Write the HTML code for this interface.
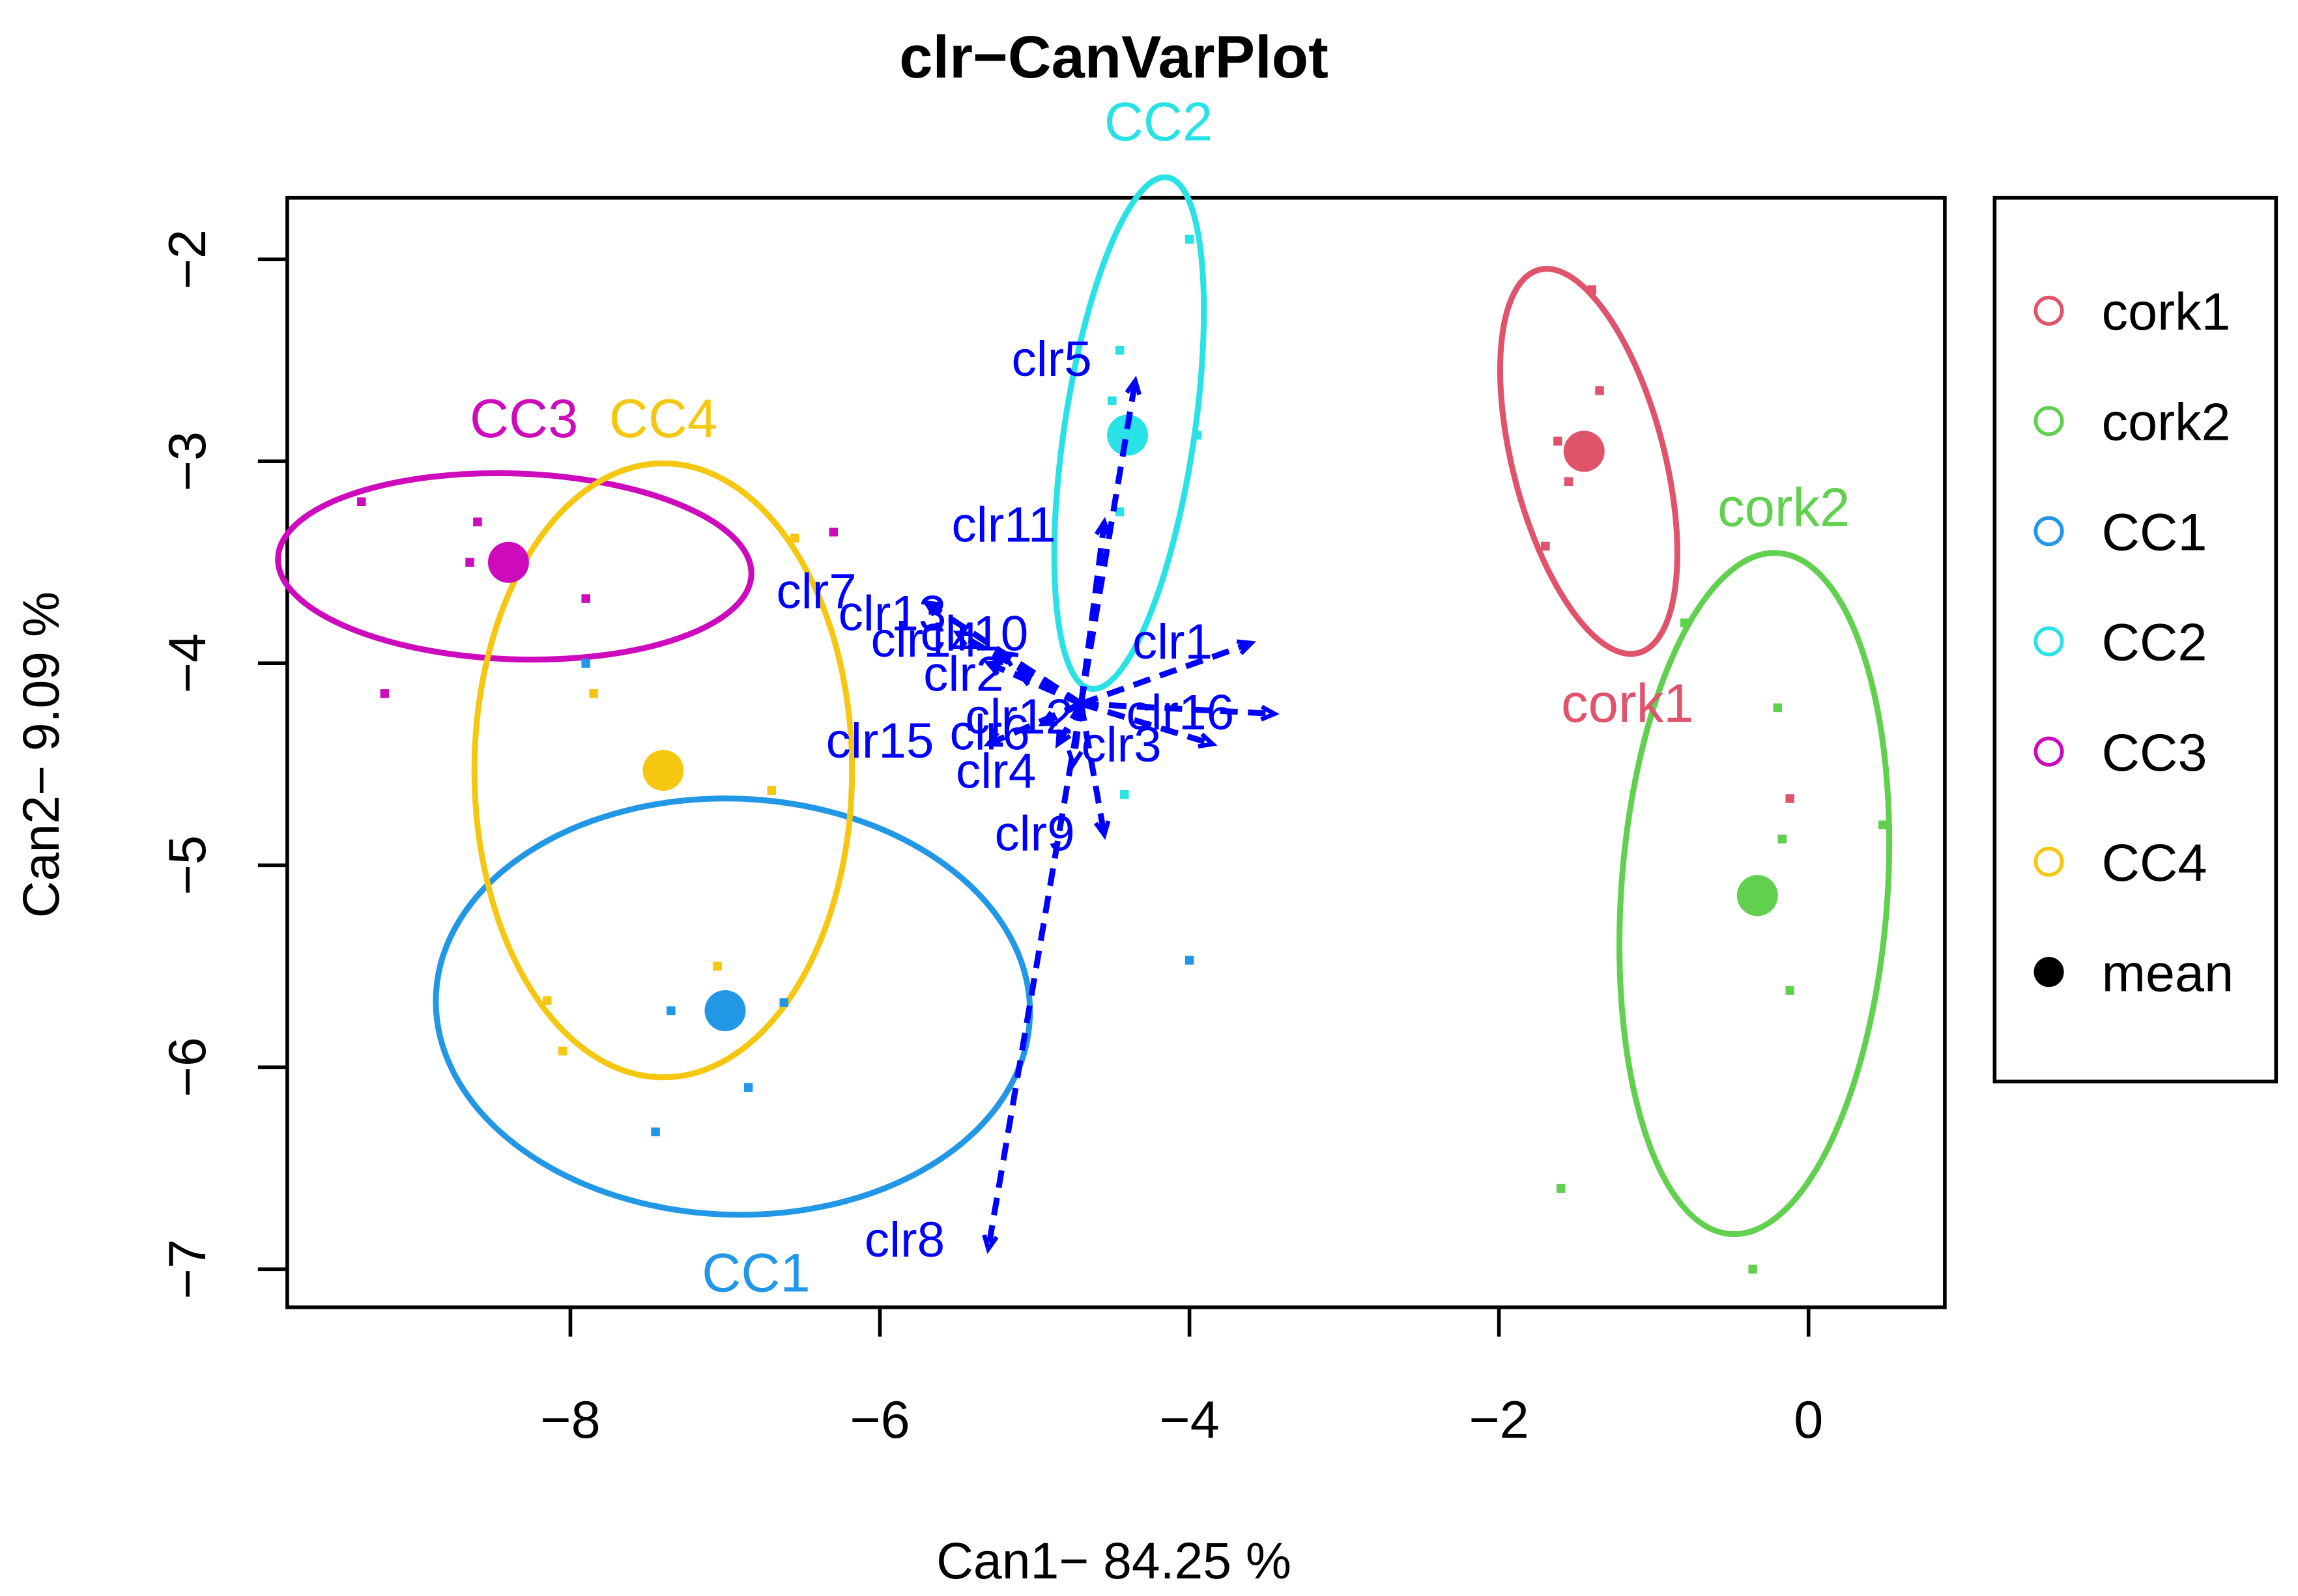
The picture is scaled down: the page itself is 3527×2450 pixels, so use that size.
<!DOCTYPE html>
<html><head><meta charset="utf-8"><style>
html,body{margin:0;padding:0;background:#fff;}
svg{display:block;font-family:"Liberation Sans",Arial,sans-serif;}
</style></head><body>
<svg id="chart" width="3527" height="2450" viewBox="0 0 1568 1089" preserveAspectRatio="none" xmlns="http://www.w3.org/2000/svg">
<rect width="1568" height="1089" fill="#fff"/>
<text x="760" y="53" font-size="41" font-weight="bold" text-anchor="middle">clr−CanVarPlot</text>
<rect x="196" y="135" width="1131" height="757" fill="none" stroke="#000" stroke-width="2.5"/>
<g id="axes"></g>
<g id="marks"></g>
<text x="760" y="1077" font-size="35" text-anchor="middle">Can1− 84.25 %</text>
<text transform="translate(40,515) rotate(-90)" font-size="35" text-anchor="middle">Can2− 9.09 %</text>
<g>
<rect x="1361" y="135" width="192" height="603" fill="none" stroke="#000" stroke-width="2.5"/>
<g id="legend-items"></g>
</g>
</svg>
<script>
const groups=["cork1","cork2","CC1","CC2","CC3","CC4"];
const colors=["#DF536B","#61D04F","#2297E6","#28E2E5","#CD0BBC","#F5C710"];
const meanX=[-1.45,-0.33,-7.0,-4.4,-8.4,-7.4];
const meanY=[-2.95,-5.15,-5.72,-2.87,-3.5,-4.53];
const ellCX=[-1.42,-0.35,-6.95,-4.39,-8.36,-7.4];
const ellCY=[-3.0,-5.14,-5.7,-2.86,-3.52,-4.53];
const ellRX=[0.49,0.86,1.92,0.42,1.53,1.22];
const ellRY=[0.98,1.69,1.03,1.28,0.46,1.52];
const ellAng=[-14.5,4,2,8.5,2,0];
const labelX=[-1.17,-0.16,-6.8,-4.2,-8.3,-7.4];
const labelY=[-4.29,-3.32,-7.11,-1.41,-2.88,-2.88];
const ptGroup=[0,0,0,0,0,0, 1,1,1,1,1,1,1, 2,2,2,2,2,2, 3,3,3,3,3,3, 4,4,4,4,4,4,4, 5,5,5,5,5,5,5];
const ptX=[-1.4,-1.35,-1.62,-1.55,-1.7,-0.12, -0.8,-0.2,-0.17,0.48,-0.12,-1.6,-0.36, -6.62,-6.85,-7.45,-4.0,-7.9,-7.35, -4.0,-4.45,-4.5,-3.95,-4.45,-4.42, -9.35,-8.6,-8.65,-7.9,-6.3,-9.2,-8.35, -6.55,-7.85,-6.7,-7.05,-8.15,-8.05,-7.4];
const ptY=[-2.15,-2.65,-2.9,-3.1,-3.42,-4.67, -3.8,-4.22,-4.87,-4.8,-5.62,-6.6,-7.0, -5.68,-6.1,-6.32,-5.47,-4.0,-5.72, -1.9,-2.45,-2.7,-2.87,-3.25,-4.65, -3.2,-3.3,-3.5,-3.68,-3.35,-4.15,-3.45, -3.38,-4.15,-4.63,-5.5,-5.67,-5.92,-4.53];
const vecNames=["clr1","clr2","clr3","clr4","clr5","clr6","clr7","clr8","clr9","clr10","clr11","clr12","clr13","clr14","clr15","clr16"];
const vecX=[-3.6,-5.1,-3.85,-4.75,-4.35,-4.85,-5.7,-5.3,-4.55,-5.2,-4.55,-4.95,-5.5,-5.3,-5.3,-3.45];
const vecY=[-3.9,-4.05,-4.4,-4.5,-2.6,-4.4,-3.7,-6.9,-4.85,-3.95,-3.3,-4.3,-3.85,-4.0,-4.4,-4.25];
const vecLabX=[-4.11,-5.46,-4.44,-5.25,-4.89,-5.29,-6.41,-5.84,-5.0,-5.39,-5.2,-5.1,-5.92,-5.71,-6.0,-4.06];
const vecLabY=[-3.89,-4.05,-4.4,-4.53,-2.49,-4.34,-3.64,-6.85,-4.84,-3.85,-3.31,-4.26,-3.75,-3.88,-4.38,-4.24];
const vecOrigin=[-4.7,-4.2];
const xTicks=[-8,-6,-4,-2,0];
const yTicks=[-2,-3,-4,-5,-6,-7];

const NS="http://www.w3.org/2000/svg";
const sx=v=>1234+v*105.6, sy=v=>177-(v+2)*137.8;
function mk(tag,attrs,parent,txt){const e=document.createElementNS(NS,tag);for(const k in attrs)e.setAttribute(k,attrs[k]);if(txt!==undefined)e.textContent=txt;parent.appendChild(e);return e;}
const axes=document.getElementById('axes'), marks=document.getElementById('marks');
xTicks.forEach(t=>{
 const l=mk('line',{x1:sx(t),x2:sx(t),y1:892,y2:912,stroke:'#000','stroke-width':2.5},axes);
 
 
 const tx=mk('text',{x:sx(t),y:981,'font-size':36,'text-anchor':'middle'},axes,t===0?'0':'−'+Math.abs(t));
 
 
});
yTicks.forEach(t=>{
 const l=mk('line',{x1:176,x2:196,y1:sy(t),y2:sy(t),stroke:'#000','stroke-width':2.5},axes);
 
 
 const tx=mk('text',{transform:`translate(140,${sy(t)}) rotate(-90)`,'font-size':36,'text-anchor':'middle'},axes,'−'+Math.abs(t));
 
 
});
groups.forEach((g,i)=>{
 const cx=sx(ellCX[i]),cy=sy(ellCY[i]);
 const e=mk('ellipse',{cx:cx,cy:cy,rx:ellRX[i]*105.6,ry:ellRY[i]*137.8,transform:`rotate(${ellAng[i]} ${cx} ${cy})`,fill:'none',stroke:colors[i],'stroke-width':4},marks);
 
 
});
ptX.forEach((x,i)=>{
 const r=mk('rect',{x:sx(x)-3,y:sy(ptY[i])-3,width:6,height:6,fill:colors[ptGroup[i]]},marks);
 
 
});
groups.forEach((g,i)=>{
 const c=mk('circle',{cx:sx(meanX[i]),cy:sy(meanY[i]),r:14,fill:colors[i]},marks);
 
 
 const t=mk('text',{x:sx(labelX[i]),y:sy(labelY[i]),'font-size':37,fill:colors[i],'text-anchor':'middle'},marks,g);
 
 
});
const ox=sx(vecOrigin[0]),oy=sy(vecOrigin[1]);
vecNames.forEach((n,i)=>{
 const ex=sx(vecX[i]),ey=sy(vecY[i]);
 const l=mk('line',{x1:ox,y1:oy,x2:ex,y2:ey,stroke:'#0000FF','stroke-width':4,'stroke-dasharray':'12,7'},marks);
 
 
 const a=Math.atan2(ey-oy,ex-ox),h=10;
 const p=mk('polyline',{points:`${ex-h*Math.cos(a-0.45)},${ey-h*Math.sin(a-0.45)} ${ex},${ey} ${ex-h*Math.cos(a+0.45)},${ey-h*Math.sin(a+0.45)}`,fill:'none',stroke:'#0000FF','stroke-width':3},marks);
 
 
 const t=mk('text',{x:sx(vecLabX[i]),y:sy(vecLabY[i])+12,'font-size':34,fill:'#0000FF','text-anchor':'middle'},marks,n);
 
 
});
const leg=document.getElementById('legend-items');
const legLabels=groups.concat(['mean']);
legLabels.forEach((g,i)=>{
 const y=212+i*75.2;
 const c=mk('circle',{cx:1398,cy:y,r:9,fill:g==='mean'?'#000':'none',stroke:g==='mean'?'#000':colors[i],'stroke-width':2.5},leg);
 
 
 const t=mk('text',{x:1434,y:y+13,'font-size':36},leg,g);
 
 
});
</script>
</body></html>
